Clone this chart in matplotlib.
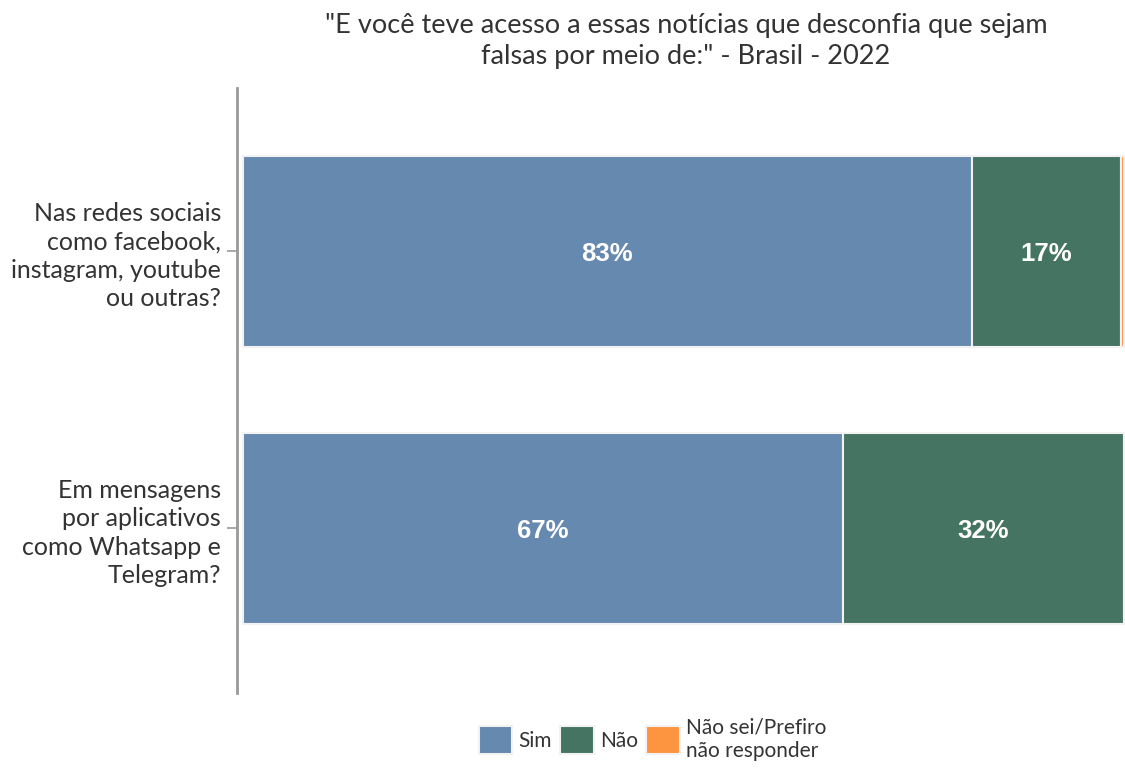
import matplotlib.pyplot as plt
import numpy as np

plt.rcParams['font.family'] = ['Lato', 'DejaVu Sans']

categories = ['Nas redes sociais\ncomo facebook,\ninstagram, youtube\nou outras?',
              'Em mensagens\npor aplicativos\ncomo Whatsapp e\nTelegram?']
sim = [83.0, 68.3]
nao = [17.0, 32.0]
nao_sei = [0.4, 0.9]
sim_labels = ['83%', '67%']
nao_labels = ['17%', '32%']
series_names = ['Sim', 'Não', 'Não sei/Prefiro\nnão responder']
colors = ['#6689B0', '#457462', '#FD9540']

W, H = 1125, 771
fig = plt.figure(figsize=(W / 100, H / 100), dpi=100)
# axes deliberately runs a little past the right edge, like the original
ax = fig.add_axes([237 / W, 1 - 693 / H, (1135 - 237) / W, (693 - 88) / H])

y = np.arange(len(categories))
h = 0.69
left = np.zeros(len(categories))
for vals, c, name in zip([sim, nao, nao_sei], colors, series_names):
    ax.barh(y, vals, left=left, height=h, color=c, edgecolor='#f2f2f2',
            linewidth=1.5, label=name)
    left = left + np.array(vals)

for i in range(len(categories)):
    ax.text(sim[i] / 2, y[i] + 0.01, sim_labels[i], ha='center', va='center',
            color='white', fontsize=18.5, fontweight='bold', family='Liberation Sans')
    ax.text(sim[i] + nao[i] / 2, y[i] + 0.01, nao_labels[i], ha='center', va='center',
            color='white', fontsize=18.5, fontweight='bold', family='Liberation Sans')

ax.set_xlim(-0.7, 101.6)
ax.set_ylim(1.594, -0.59)
ax.set_yticks(y)
ax.set_yticklabels(categories, fontsize=18, color='#333333', linespacing=1.27)
ax.set_xticks([])
for s in ['top', 'right', 'bottom']:
    ax.spines[s].set_visible(False)
ax.spines['left'].set_color('#999999')
ax.spines['left'].set_linewidth(2)
ax.tick_params(axis='y', length=7, width=1.2, color='#999999', pad=4.5)

fig.text(686 / W, 1 - 41 / H,
         '"E você teve acesso a essas notícias que desconfia que sejam\nfalsas por meio de:" - Brasil - 2022',
         ha='center', va='center', fontsize=19.5, color='#333333', linespacing=1.3)

fig.legend(loc='lower center', bbox_to_anchor=(0.58, 0.0), ncol=3,
           frameon=False, fontsize=15, handlelength=1.6, handleheight=1.7,
           handletextpad=0.3, columnspacing=0.4, labelcolor='#333333',
           borderaxespad=0.1, labelspacing=0.2)

fig.savefig('out.png', dpi=100)
